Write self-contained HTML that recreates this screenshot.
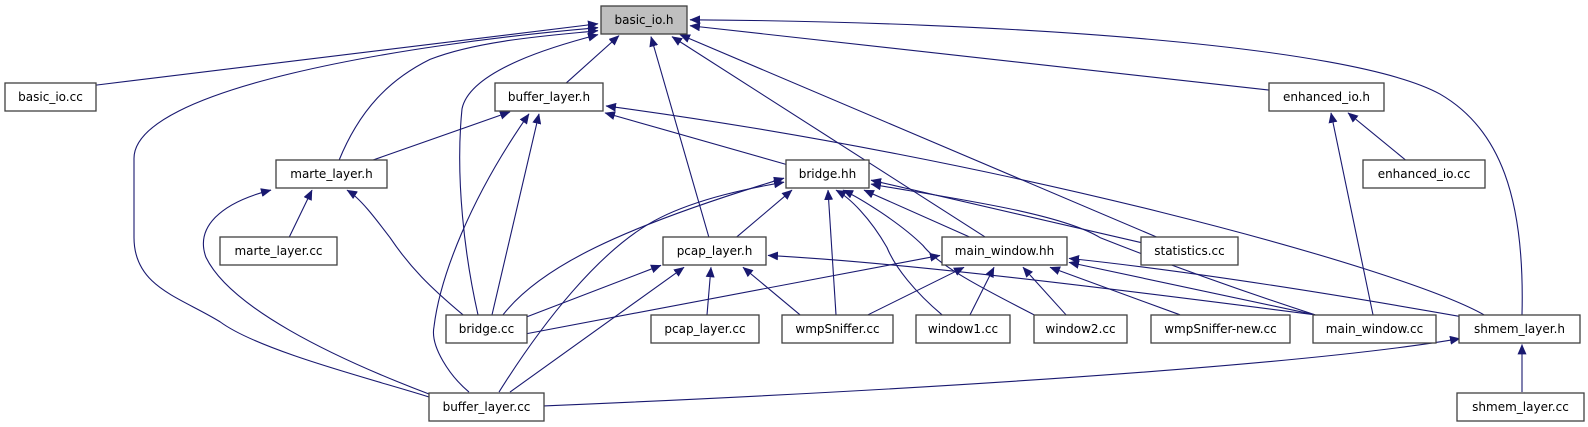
<!DOCTYPE html>
<html><head><meta charset="utf-8"><style>
html,body{margin:0;padding:0;background:#fff;}
svg{display:block;}
text{font-family:"DejaVu Sans","Liberation Sans",sans-serif;font-size:12px;fill:#000;}
.n{fill:#fff;stroke:#404040;stroke-width:1.3;}
.e{fill:none;stroke:#191970;stroke-width:1.1;}
</style></head><body>
<svg width="1588" height="427" viewBox="0 0 1588 427" xmlns="http://www.w3.org/2000/svg">
<defs>
<marker id="a" markerWidth="11" markerHeight="9" refX="10" refY="4.5" orient="auto" markerUnits="userSpaceOnUse">
<path d="M0,0 L10.5,4.5 L0,9 Z" fill="#191970"/>
</marker>
</defs>
<g transform="scale(1,0.99)" marker-end="url(#a)">
<!-- to basic_io.h -->
<path class="e" d="M96,86 L598,24"/>
<path class="e" d="M429,401 C380,385 260,355 220,325 C180,300 134,290 134,240 L134,160 C134,90 400,45 598,28"/>
<path class="e" d="M339,162 C360,110 390,80 430,60 C480,40 560,35 598,31"/>
<path class="e" d="M478,318 C465,260 455,180 462,110 C470,70 560,45 598,35"/>
<path class="e" d="M566,84 L619,36"/>
<path class="e" d="M709,240 L651,37"/>
<path class="e" d="M986,240 L672,37"/>
<path class="e" d="M1158,240 L680,35"/>
<path class="e" d="M1269,91 L690,26"/>
<path class="e" d="M1522,318 C1525,200 1500,130 1440,95 C1350,45 1000,22 690,20"/>
<!-- to buffer_layer.h -->
<path class="e" d="M372,162 L510,113"/>
<path class="e" d="M469,396 C450,380 430,350 434,330 C440,280 470,200 529,115"/>
<path class="e" d="M492,318 L539,115"/>
<path class="e" d="M786,166 L605,114"/>
<path class="e" d="M1484,318 C1400,270 1000,160 606,107"/>
<!-- to marte_layer.h -->
<path class="e" d="M289,240 L312,192"/>
<path class="e" d="M463,318 C430,290 410,270 390,240 C375,220 360,200 347,192"/>
<path class="e" d="M429,398 C330,360 230,310 206,260 C195,230 220,205 271,192"/>
<!-- to bridge.hh -->
<path class="e" d="M503,318 C540,270 620,230 784,180"/>
<path class="e" d="M499,396 C540,330 600,250 660,220 C700,200 750,190 784,184"/>
<path class="e" d="M736,240 L792,192"/>
<path class="e" d="M836,318 L828,192"/>
<path class="e" d="M942,318 C915,295 895,270 887,250 C870,220 850,200 836,192"/>
<path class="e" d="M1034,318 C990,295 940,270 923,248 C900,225 860,200 843,192"/>
<path class="e" d="M971,240 L864,192"/>
<path class="e" d="M1141,245 L871,182"/>
<path class="e" d="M1315,318 C1230,290 1150,260 1100,240 C1060,215 950,200 871,186"/>
<!-- to main_window.hh -->
<path class="e" d="M527,337 L940,258"/>
<path class="e" d="M868,318 L964,270"/>
<path class="e" d="M970,318 L994,270"/>
<path class="e" d="M1066,318 L1023,270"/>
<path class="e" d="M1180,318 L1050,270"/>
<path class="e" d="M1315,318 L1069,265"/>
<path class="e" d="M1462,320 C1350,300 1200,275 1069,261"/>
<!-- to pcap_layer.h -->
<path class="e" d="M527,320 L661,268"/>
<path class="e" d="M707,318 L711,270"/>
<path class="e" d="M800,318 L743,270"/>
<path class="e" d="M510,396 L684,270"/>
<path class="e" d="M1315,318 C1100,290 900,265 768,258"/>
<!-- enhanced_io.h -->
<path class="e" d="M1373,318 L1331,114"/>
<path class="e" d="M1406,162 L1348,114"/>
<!-- shmem_layer.h -->
<path class="e" d="M544,410 C900,395 1300,370 1460,342"/>
<path class="e" d="M1522,396 L1522,348"/>
</g>
<!-- nodes -->
<rect x="601" y="6" width="86" height="28" fill="#bfbfbf" stroke="#404040" stroke-width="1.3"/><text x="644" y="24" text-anchor="middle">basic_io.h</text>
<rect class="n" x="5" y="83" width="91" height="28"/><text x="50.5" y="101" text-anchor="middle">basic_io.cc</text>
<rect class="n" x="495" y="83" width="108" height="28"/><text x="549" y="101" text-anchor="middle">buffer_layer.h</text>
<rect class="n" x="1269" y="83" width="115" height="28"/><text x="1326.5" y="101" text-anchor="middle">enhanced_io.h</text>
<rect class="n" x="276" y="160" width="111" height="28"/><text x="331.5" y="178" text-anchor="middle">marte_layer.h</text>
<rect class="n" x="786" y="160" width="83" height="28"/><text x="827.5" y="178" text-anchor="middle">bridge.hh</text>
<rect class="n" x="1363" y="160" width="122" height="28"/><text x="1424" y="178" text-anchor="middle">enhanced_io.cc</text>
<rect class="n" x="220" y="237" width="117" height="28"/><text x="278.5" y="255" text-anchor="middle">marte_layer.cc</text>
<rect class="n" x="663" y="237" width="103" height="28"/><text x="714.5" y="255" text-anchor="middle">pcap_layer.h</text>
<rect class="n" x="942" y="237" width="125" height="28"/><text x="1004.5" y="255" text-anchor="middle">main_window.hh</text>
<rect class="n" x="1141" y="237" width="97" height="28"/><text x="1189.5" y="255" text-anchor="middle">statistics.cc</text>
<rect class="n" x="446" y="315" width="81" height="28"/><text x="486.5" y="333" text-anchor="middle">bridge.cc</text>
<rect class="n" x="651" y="315" width="108" height="28"/><text x="705" y="333" text-anchor="middle">pcap_layer.cc</text>
<rect class="n" x="782" y="315" width="111" height="28"/><text x="837.5" y="333" text-anchor="middle">wmpSniffer.cc</text>
<rect class="n" x="916" y="315" width="94" height="28"/><text x="963" y="333" text-anchor="middle">window1.cc</text>
<rect class="n" x="1034" y="315" width="93" height="28"/><text x="1080.5" y="333" text-anchor="middle">window2.cc</text>
<rect class="n" x="1151" y="315" width="139" height="28"/><text x="1220.5" y="333" text-anchor="middle">wmpSniffer-new.cc</text>
<rect class="n" x="1313" y="315" width="123" height="28"/><text x="1374.5" y="333" text-anchor="middle">main_window.cc</text>
<rect class="n" x="1459" y="315" width="121" height="28"/><text x="1519.5" y="333" text-anchor="middle">shmem_layer.h</text>
<rect class="n" x="429" y="393" width="115" height="28"/><text x="486.5" y="411" text-anchor="middle">buffer_layer.cc</text>
<rect class="n" x="1457" y="393" width="127" height="28"/><text x="1520.5" y="411" text-anchor="middle">shmem_layer.cc</text>
</svg>
</body></html>
